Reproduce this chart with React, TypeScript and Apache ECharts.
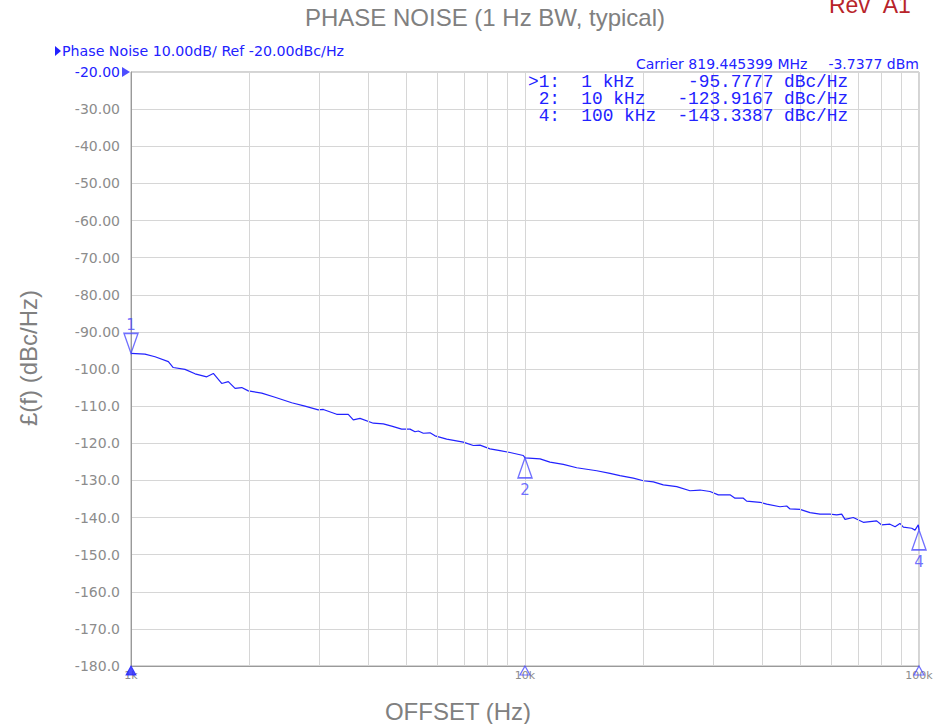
import React, { useEffect, useRef } from 'react';
import * as echarts from 'echarts';

// ---- data ----
const offsetsHz = [
  1000, 1085, 1151, 1244, 1280, 1371, 1454, 1557, 1618, 1699, 1766, 1837, 1910, 1985,
  2147, 2320, 2558, 2764, 2988, 3077, 3327, 3560, 3666, 3813, 4121, 4369, 4588, 4864,
  5107, 5259, 5361, 5520, 5741, 5911, 6328, 6973, 7393, 7688, 8150, 8642, 9161, 9901,
  10000, 10920, 11570, 12510, 13530, 15210, 16430, 17420, 18830, 19970, 21170, 22440,
  24270, 26230, 27810, 29480, 30950, 33140, 34120, 35820, 36530, 39490, 41070, 44380,
  46150, 47060, 49890, 52890, 56070, 59440, 61820, 63650, 64890, 68110, 72210, 78080,
  80400, 84400, 86970, 89450, 91250, 95830, 97680, 99600, 100000,
];
const noiseDbc = [
  -95.78, -96.0, -96.7, -98.0, -99.6, -100.1, -101.3, -102.1, -101.2, -103.9, -103.4, -105.2, -105.0, -105.9,
  -106.5, -107.6, -109.1, -110.0, -111.0, -110.9, -112.2, -112.2, -113.7, -113.3, -114.6, -114.8, -115.4, -116.2,
  -116.2, -116.9, -116.7, -117.3, -117.2, -118.0, -118.9, -119.7, -120.6, -120.5, -121.5, -122.0, -122.5, -123.3,
  -123.92, -124.2, -125.1, -125.7, -126.6, -127.4, -128.1, -128.7, -129.4, -130.1, -130.4, -131.2,
  -131.7, -132.8, -132.6, -133.0, -133.9, -133.9, -134.8, -134.8, -135.6, -135.9, -136.4, -137.1,
  -136.9, -137.7, -137.8, -138.7, -139.1, -139.1, -139.3, -139.1, -140.5, -140.0, -141.3, -140.9,
  -142.0, -141.8, -142.5, -141.6, -142.6, -142.9, -143.4, -142.0, -143.34,
];

const markerIds = ['1', '2', '4'];
const markerOffsetsHz = [1000, 10000, 100000];
const markerOffsetLabels = ['1 kHz', '10 kHz', '100 kHz'];
const markerValues = [-95.7777, -123.9167, -143.3387];

const minorGridHz = [2000, 3000, 4000, 5000, 6000, 7000, 8000, 9000, 20000, 30000, 40000, 50000, 60000, 70000, 80000, 90000];

const yMin = -180;
const yMax = -20;
const yStep = 10;
const xMin = 1000;
const xMax = 100000;

const titleText = 'PHASE NOISE (1 Hz BW, typical)';
const revText = 'Rev  A1';
const yName = '£(f) (dBc/Hz)';
const xName = 'OFFSET (Hz)';
const headerText = 'Phase Noise 10.00dB/ Ref -20.00dBc/Hz';
const carrierText = 'Carrier 819.445399 MHz';
const carrierPower = '-3.7377 dBm';

// ---- styles ----
const BLUE = '#2222ff';
const MARK_BLUE = '#4c4cff';
const GRAY_TEXT = '#8c8c8c';
const GRID = '#d6d6d6';
const AXIS = '#9a9a9a';
const NB = '\u00A0';

function pad(s: string, n: number, left = false) {
  let out = s;
  while (out.length < n) out = left ? ' ' + out : out + ' ';
  return out;
}

function tableText(): string {
  return markerIds
    .map((id, i) => {
      const head = (i === 0 ? '>' : ' ') + id + ':';
      const line =
        head + '  ' + pad(markerOffsetLabels[i], 7) + '  ' + pad(markerValues[i].toFixed(4), 9, true) + ' dBc/Hz';
      return line.replace(/ /g, NB);
    })
    .join('\n');
}

function yLabel(v: number) {
  if (v === yMax) return '{b|' + v.toFixed(2) + '}';
  return v > -100 ? v.toFixed(2) : v.toFixed(1);
}

export default function App() {
  const ref = useRef<HTMLDivElement>(null);
  useEffect(() => {
    if (!ref.current) return;
    const chart = echarts.init(ref.current, undefined, { renderer: 'svg' });
    const curve = offsetsHz.map((f, i) => [f, noiseDbc[i]]);

    const markerData = markerOffsetsHz.map((f, i) => {
      const down = i === 0;
      return {
        value: [f, markerValues[i]],
        name: markerIds[i],
        symbolRotate: down ? 180 : 0,
        symbolOffset: [0, down ? -10 : 10],
        label: {
          show: true,
          position: down ? 'top' : 'bottom',
          distance: down ? 0 : 4,
        },
      };
    });

    const axisMarks = markerOffsetsHz.map((f, i) => ({
      value: [f, yMin],
      itemStyle: i === 0 ? { color: BLUE, borderColor: BLUE } : { color: 'rgba(255,255,255,0)', borderColor: MARK_BLUE, borderWidth: 1.2 },
    }));

    const option: any = {
      animation: false,
      backgroundColor: '#ffffff',
      textStyle: { fontFamily: 'DejaVu Sans' },
      grid: { left: 131, top: 72, width: 788, height: 594, show: true, borderColor: '#a8a8a8', borderWidth: 1, backgroundColor: 'transparent' },
      xAxis: {
        type: 'log',
        logBase: 10,
        min: xMin,
        max: xMax,
        axisLine: { show: true, lineStyle: { color: AXIS } },
        axisTick: { show: false },
        splitLine: { show: true, lineStyle: { color: GRID } },
        axisLabel: {
          formatter: (v: number) => v / 1000 + 'k',
          color: GRAY_TEXT,
          fontFamily: 'DejaVu Sans',
          fontSize: 11,
          margin: 4,
        },
      },
      yAxis: {
        type: 'value',
        min: yMin,
        max: yMax,
        interval: yStep,
        axisLine: { show: true, lineStyle: { color: AXIS } },
        axisTick: { show: false },
        splitLine: { show: true, lineStyle: { color: GRID } },
        axisLabel: {
          formatter: yLabel,
          color: GRAY_TEXT,
          fontFamily: 'DejaVu Sans',
          fontSize: 14,
          margin: 11,
          rich: { b: { color: BLUE, fontFamily: 'DejaVu Sans', fontSize: 14 } },
        },
      },
      series: [
        {
          type: 'line',
          data: [],
          silent: true,
          z: 1,
          markLine: {
            silent: true,
            symbol: ['none', 'none'],
            label: { show: false },
            lineStyle: { color: GRID, type: 'solid', width: 1 },
            data: minorGridHz.map((v) => ({ xAxis: v })),
          },
        },
        {
          type: 'line',
          data: curve,
          showSymbol: false,
          symbol: 'none',
          lineStyle: { color: BLUE, width: 1.2 },
          z: 3,
        },
        {
          type: 'scatter',
          data: markerData,
          symbol: 'triangle',
          symbolSize: [14, 20],
          clip: false,
          z: 4,
          itemStyle: { color: 'rgba(255,255,255,0)', borderColor: MARK_BLUE, borderWidth: 1.5 },
          label: {
            formatter: (p: any) => p.name,
            color: MARK_BLUE,
            fontFamily: 'DejaVu Sans',
            fontSize: 15,
          },
        },
        {
          type: 'scatter',
          data: axisMarks,
          symbol: 'triangle',
          symbolSize: [10, 9],
          symbolOffset: [0, 4.5],
          clip: false,
          z: 5,
        },
        {
          type: 'scatter',
          data: [[xMin, yMax]],
          symbol: 'triangle',
          symbolSize: [10, 8],
          symbolRotate: -90,
          symbolOffset: [-5, 0],
          clip: false,
          z: 5,
          itemStyle: { color: BLUE },
        },
      ],
      graphic: [
        { type: 'text', x: 485, y: 17, style: { text: titleText, fill: '#808080', fontFamily: 'Liberation Sans', fontSize: 24, align: 'center', verticalAlign: 'middle' } },
        { type: 'text', x: 829, y: 5, style: { text: revText.replace(/ /g, NB), fill: '#b8242a', fontFamily: 'Liberation Sans', fontSize: 23, align: 'left', verticalAlign: 'middle' } },
        { type: 'text', x: 28, y: 358, rotation: Math.PI / 2, style: { text: yName, fill: '#808080', fontFamily: 'Liberation Sans', fontSize: 24, align: 'center', verticalAlign: 'middle' } },
        { type: 'text', x: 458, y: 711, style: { text: xName, fill: '#808080', fontFamily: 'Liberation Sans', fontSize: 24, align: 'center', verticalAlign: 'middle' } },
        { type: 'polygon', shape: { points: [[55, 46], [55, 56], [61, 51]] }, style: { fill: BLUE } },
        { type: 'text', x: 62, y: 51, style: { text: headerText, fill: BLUE, fontFamily: 'DejaVu Sans', fontSize: 14.2, align: 'left', verticalAlign: 'middle' } },
        { type: 'text', x: 636, y: 64, style: { text: carrierText, fill: BLUE, fontFamily: 'DejaVu Sans', fontSize: 14, align: 'left', verticalAlign: 'middle' } },
        { type: 'text', x: 919, y: 64, style: { text: carrierPower, fill: BLUE, fontFamily: 'DejaVu Sans', fontSize: 14, align: 'right', verticalAlign: 'middle' } },
        {
          type: 'text',
          x: 528,
          y: 73.5,
          z: 10,
          style: { text: tableText(), fill: BLUE, fontFamily: 'Liberation Mono', fontSize: 17.8, lineHeight: 17, align: 'left', verticalAlign: 'top' },
        },
      ],
    };
    chart.setOption(option);
    return () => chart.dispose();
  }, []);
  return <div ref={ref} style={{ position: 'fixed', left: 0, top: 0, width: 943, height: 724 }} />;
}
